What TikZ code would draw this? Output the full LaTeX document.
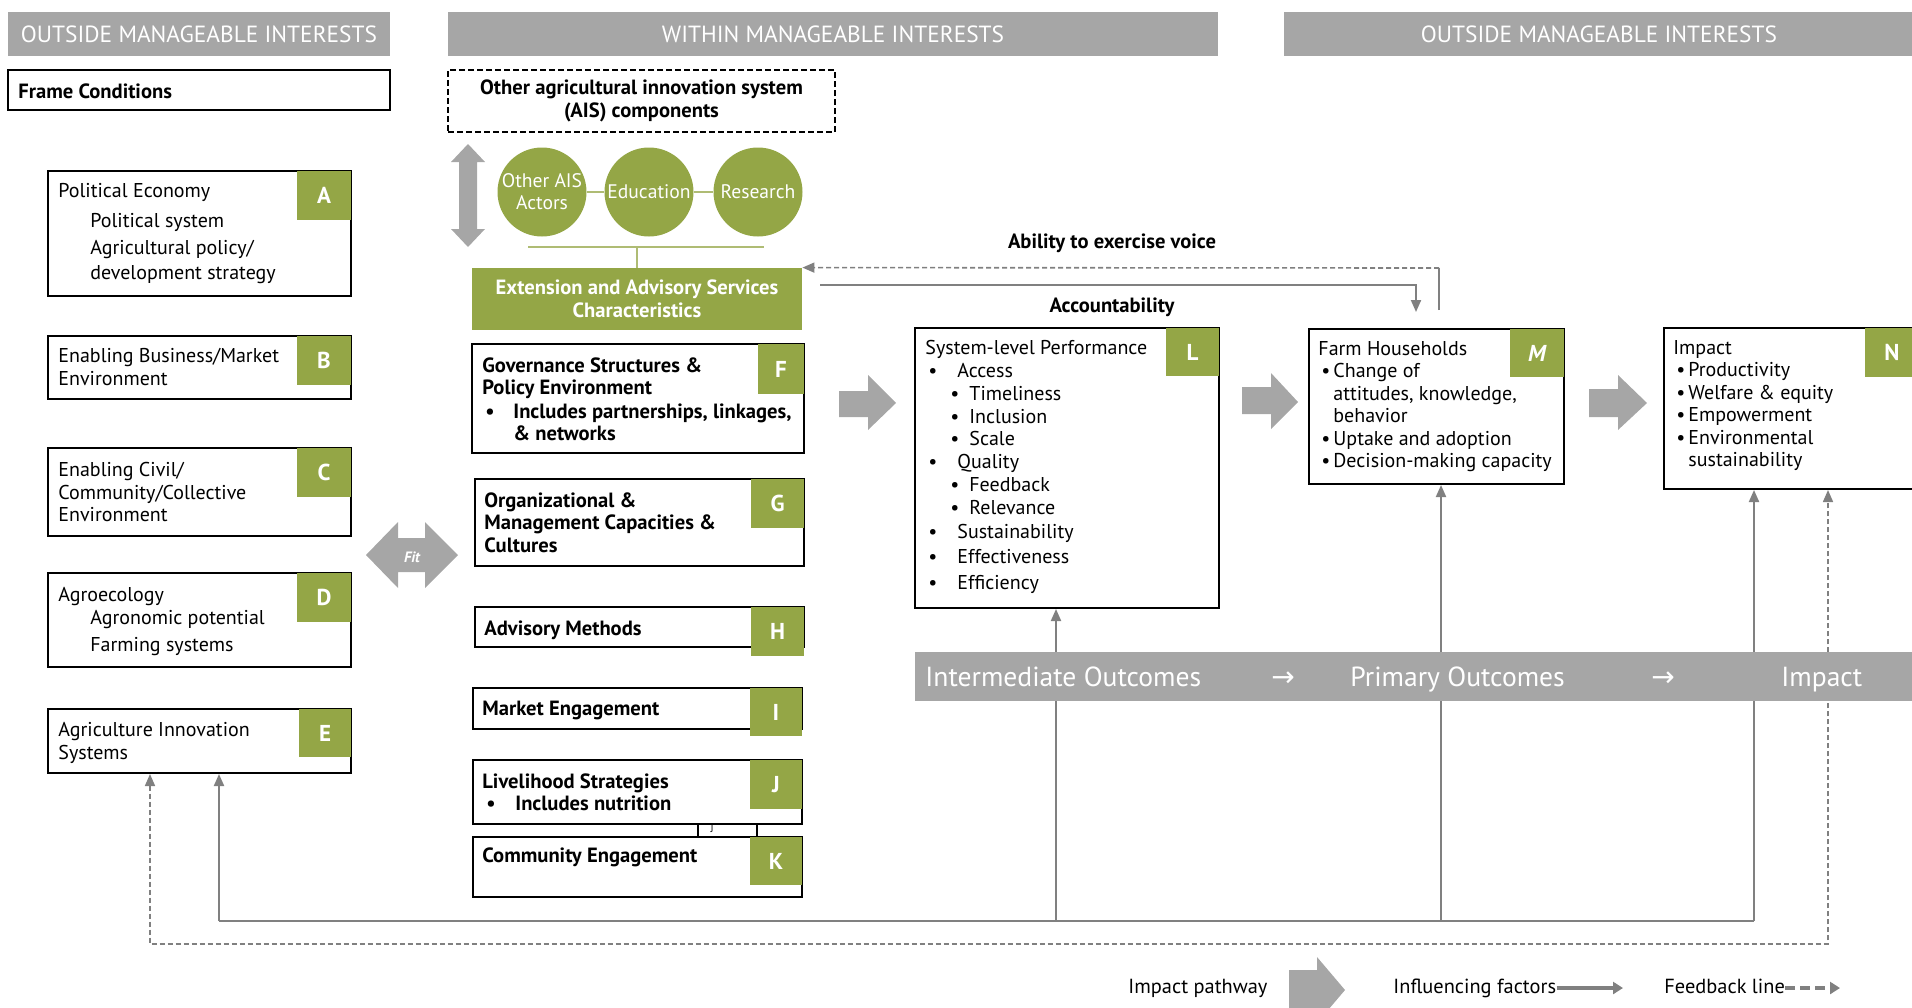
\documentclass[tikz,border=0pt]{standalone}
\usepackage{fontspec}
\setmainfont{PT Sans}
\newfontfamily\symfont{DejaVu Sans}
\usetikzlibrary{arrows.meta,fit,positioning}

\definecolor{hdrgray}{RGB}{166,166,166}
\definecolor{eagreen}{RGB}{148,166,70}
\definecolor{linegray}{RGB}{128,128,128}

% bullets for the outcome boxes
\newcommand{\bulA}{\makebox[16pt][l]{\hspace{1.5pt}•}}
\newcommand{\bulB}{\hspace{12.5pt}\makebox[9.5pt][l]{•}}
\newcommand{\bulC}{\makebox[7.5pt][l]{\hspace{1.5pt}•}}

\tikzset{
  banner/.style={fill=hdrgray, inner sep=0pt},
  bannertext/.style={text=white, inner sep=0pt, font=\fontsize{11.7}{13}\selectfont},
  framebox/.style={draw=black, line width=1pt, inner sep=0pt},
  tagbox/.style={fill=eagreen, inner sep=0pt},
  tagletter/.style={text=white, inner sep=0pt, font=\bfseries\fontsize{11.5}{13}\selectfont},
  boxtext/.style={anchor=north west, align=left, inner sep=0pt, font=\fontsize{10}{11.25}\selectfont},
  boldtext/.style={boxtext, font=\bfseries\fontsize{10.3}{11.3}\selectfont},
  aiscircle/.style={circle, fill=eagreen, minimum size=44.5pt, inner sep=0pt, text=white, align=center, font=\fontsize{9.8}{11}\selectfont},
  greenline/.style={draw=eagreen!75, line width=1pt},
  infline/.style={draw=linegray, line width=1pt},
  fbline/.style={draw=linegray, line width=0.8pt, dash pattern=on 2.5pt off 1.5pt},
  tip/.style={-{Triangle[width=5pt,length=6pt]}},
  fatarrow/.style={fill=hdrgray},
  bandtext/.style={text=white, inner sep=0pt, anchor=base west, font=\fontsize{13.8}{15}\selectfont},
  legtext/.style={inner sep=0pt, anchor=base west, font=\fontsize{10.2}{11}\selectfont},
}

\begin{document}
\begin{tikzpicture}[x=0.5pt,y=-0.5pt]
\useasboundingbox (0,0) rectangle (1912,1007);

% banners
\node[banner, fit={(8,12) (390,56)}, label={[bannertext]center:OUTSIDE MANAGEABLE INTERESTS}] (outleft) {};
\node[banner, fit={(448,12) (1218,56)}, label={[bannertext]center:WITHIN MANAGEABLE INTERESTS}] (within) {};
\node[banner, fit={(1284,12) (1914,56)}, label={[bannertext]center:OUTSIDE MANAGEABLE INTERESTS}] (outright) {};

% frame conditions
\node[framebox, fit={(8,70) (390,110)}] (frame) {};
\node[boldtext, anchor=base west] at (18,98) {Frame Conditions};

\node[framebox, fit={(48,171) (351,296)}] (polecon) {};
\node[tagbox, fit={(297,171) (351,220)}, label={[tagletter]center:A}] (tagA) {};
\node[boxtext, font=\fontsize{10}{13.5}\selectfont] at (58,183) {Political Economy\\[1.5pt]\hspace{16pt}Political system\\\hspace{16pt}Agricultural policy/\\[-1pt]\hspace{16pt}development strategy};

\node[framebox, fit={(48,336) (351,399)}] (bizenv) {};
\node[tagbox, fit={(297,336) (351,385)}, label={[tagletter]center:B}] (tagB) {};
\node[boxtext] at (58,348) {Enabling Business/Market\\Environment};

\node[framebox, fit={(48,448) (351,536)}] (civenv) {};
\node[tagbox, fit={(297,448) (351,497)}, label={[tagletter]center:C}] (tagC) {};
\node[boxtext] at (58,462) {Enabling Civil/\\Community/Collective\\Environment};

\node[framebox, fit={(48,573) (351,667)}] (agroeco) {};
\node[tagbox, fit={(297,573) (351,622)}, label={[tagletter]center:D}] (tagD) {};
\node[boxtext, font=\fontsize{10}{12.5}\selectfont] at (58,587) {Agroecology\\[-1pt]\hspace{16pt}Agronomic potential\\[1pt]\hspace{16pt}Farming systems};

\node[framebox, fit={(48,709) (351,773)}] (agris) {};
\node[tagbox, fit={(299,709) (351,757)}, label={[tagletter]center:E}] (tagE) {};
\node[boxtext] at (58,722) {Agriculture Innovation\\Systems};

% other AIS components
\node[framebox, dash pattern=on 3pt off 1.5pt, fit={(448,70) (835,132)}] (aisbox) {};
\node[boldtext, anchor=center, align=center, font=\bfseries\fontsize{10.3}{11.2}\selectfont] at (aisbox) {Other agricultural innovation system\\(AIS) components};

\fill[fatarrow] (468,144) -- (485,162) -- (477,162) -- (477,229) -- (485,229) -- (468,247)
  -- (451,229) -- (459,229) -- (459,162) -- (451,162) -- cycle;

\node[aiscircle] (actors) at (542,192) {Other AIS\\Actors};
\node[aiscircle] (educ) at (649,192) {Education};
\node[aiscircle] (research) at (758,192) {Research};
\draw[greenline] (actors) -- (educ);
\draw[greenline] (educ) -- (research);

\node[fill=eagreen, inner sep=0pt, fit={(472,268) (802,330)}] (eas) {};
\node[text=white, align=center, font=\bfseries\fontsize{10.3}{11.5}\selectfont] at (eas) {Extension and Advisory Services\\Characteristics};

\coordinate (busleft) at (528,247);
\coordinate (busright) at (764,247);
\draw[greenline] (busleft) -- (busright);
\draw[greenline] (eas.north) -- (eas.north |- busleft);

% EAS characteristics
\node[framebox, fit={(472,344) (804,453)}] (govern) {};
\node[tagbox, fit={(758,344) (804,394)}, label={[tagletter]center:F}] (tagF) {};
\node[boldtext] at (482,357) {Governance Structures \&\\Policy Environment\\[0.5pt]\makebox[15.5pt][l]{\hspace{1.5pt}•}Includes partnerships, linkages,\\\hspace{15.5pt}\& networks};

\node[framebox, fit={(475,479) (804,566)}] (orgcap) {};
\node[tagbox, fit={(751,479) (804,528)}, label={[tagletter]center:G}] (tagG) {};
\node[boldtext] at (484,492) {Organizational \&\\Management Capacities \&\\Cultures};

\node[framebox, fit={(475,607) (804,647)}] (advmeth) {};
\node[tagbox, fit={(751,607) (804,656)}, label={[tagletter]center:H}] (tagH) {};
\node[boldtext, anchor=base west] at (484,635) {Advisory Methods};

\node[framebox, fit={(473,688) (802,729)}] (market) {};
\node[tagbox, fit={(750,688) (802,736)}, label={[tagletter]center:I}] (tagI) {};
\node[boldtext, anchor=base west] at (482,715) {Market Engagement};

\node[framebox, fit={(473,760) (802,824)}] (livelihood) {};
\node[tagbox, fit={(750,760) (802,809)}, label={[tagletter]center:J}] (tagJ) {};
\node[boldtext] at (482,773) {Livelihood Strategies\\\makebox[16.5pt][l]{\hspace{2pt}•}Includes nutrition};

\node[framebox, fit={(473,837) (802,897)}] (community) {};
\node[tagbox, fit={(750,837) (802,885)}, label={[tagletter]center:K}] (tagK) {};
\node[boldtext, anchor=base west] at (482,862) {Community Engagement};

\draw[line width=0.8pt] (livelihood.south -| 698,0) -- (community.north -| 698,0);
\draw[line width=0.8pt] (livelihood.south -| 757,0) -- (community.north -| 757,0);
\node[inner sep=0pt, font=\fontsize{5}{5}\selectfont] (smallj) at (712,829) {J};

% fit arrow
\fill[fatarrow] (366,555) -- (398,522) -- (398,538) -- (425,538) -- (425,522) -- (458,555)
  -- (425,588) -- (425,572) -- (398,572) -- (398,588) -- cycle;
\node[text=white, font=\bfseries\itshape\fontsize{7.5}{8}\selectfont] (fitlabel) at (412,557) {Fit};

% impact pathway arrows
\fill[fatarrow] (839,391) -- (868,391) -- (868,375) -- (896,403) -- (868,430) -- (868,417) -- (839,417) -- cycle;
\fill[fatarrow] (1242,387) -- (1271,387) -- (1271,373) -- (1298,402) -- (1271,429) -- (1271,414) -- (1242,414) -- cycle;
\fill[fatarrow] (1589,389) -- (1618,389) -- (1618,375) -- (1647,403) -- (1618,430) -- (1618,417) -- (1589,417) -- cycle;

% outcomes
\node[framebox, fit={(915,328) (1219,608)}] (sysperf) {};
\node[tagbox, fit={(1166,328) (1219,376)}, label={[tagletter]center:L}] (tagL) {};
\node[boxtext, font=\fontsize{10}{11.4}\selectfont] at (925,340) {System-level Performance\\\bulA Access\\\bulB Timeliness\\\bulB Inclusion\\\bulB Scale\\\bulA Quality\\\bulB Feedback\\\bulB Relevance\\[0.5pt]\bulA Sustainability\\[1.5pt]\bulA Effectiveness\\[1.5pt]\bulA Efficiency};

\node[framebox, fit={(1309,329) (1564,484)}] (farm) {};
\node[tagbox, fit={(1510,329) (1564,377)}, label={[tagletter, font=\bfseries\itshape\fontsize{11.5}{13}\selectfont]center:M}] (tagM) {};
\node[boxtext] at (1318,341) {Farm Households\\\bulC Change of\\\hspace{7.5pt}attitudes, knowledge,\\\hspace{7.5pt}behavior\\\bulC Uptake and adoption\\\bulC Decision-making capacity};

\node[framebox, fit={(1664,328) (1919,489)}] (impact) {};
\node[tagbox, fit={(1865,328) (1919,377)}, label={[tagletter]center:N}] (tagN) {};
\node[boxtext] at (1673,340) {Impact\\\bulC Productivity\\\bulC Welfare \& equity\\\bulC Empowerment\\\bulC Environmental\\\hspace{7.5pt}sustainability};

% voice and accountability
\node[font=\bfseries\fontsize{10.3}{11}\selectfont] (voice) at (1112,243) {Ability to exercise voice};
\node[font=\bfseries\fontsize{10.3}{11}\selectfont] (account) at (1112,307) {Accountability};
\coordinate (voicestart) at (1439,310);
\coordinate (voicecorner) at (1439,268);
\draw[infline] (voicestart) -- (voicecorner);
\draw[fbline, tip] (voicecorner) -- (eas.north east);
\coordinate (acctstart) at (820,285);
\coordinate (acctend) at (1416,312);
\draw[infline, tip] (acctstart) -| (acctend);

% influencing factors and feedback
\coordinate (infwest) at (219,921);
\coordinate (infeast) at (1754,921);
\draw[infline] (infwest) -- (infeast);
\draw[infline, tip] (infwest) -- (infwest |- agris.south);
\foreach \n/\x in {sysperf/1056,farm/1441,impact/1754}
  \draw[infline, tip] (\x,921) -- (\x,921 |- \n.south);

\coordinate (fbwest) at (150,944);
\coordinate (fbeast) at (1828,944);
\draw[fbline, {Triangle[width=5pt,length=6pt]}-{Triangle[width=5pt,length=6pt]}]
  (fbwest |- agris.south) -- (fbwest) -- (fbeast) -- (fbeast |- impact.south);

% outcome band
\node[banner, fit={(915,652) (1914,701)}] (band) {};
\node[bandtext] (interm) at (925,686) {Intermediate Outcomes};
\node[bandtext, anchor=base] (arrowone) at (1283,686) {\symfont\fontsize{14}{16}\selectfont →};
\node[bandtext] (primary) at (1350,686) {Primary Outcomes};
\node[bandtext, anchor=base] (arrowtwo) at (1663,686) {\symfont\fontsize{14}{16}\selectfont →};
\node[bandtext] (impactlbl) at (1781,686) {Impact};

% legend
\node[legtext] (legpath) at (1128,993) {Impact pathway};
\fill[fatarrow] (1289,970) -- (1317,970) -- (1317,957) -- (1345,990) -- (1317,1023) -- (1317,1010) -- (1289,1010) -- cycle;
\node[legtext] (leginf) at (1393,993) {Influencing factors};
\coordinate (leginfend) at (1623,988);
\draw[draw=linegray, line width=2pt, -{Triangle[width=6pt,length=5pt]}] (leginf.east |- leginfend) -- (leginfend);
\node[legtext] (legfb) at (1664,993) {Feedback line};
\coordinate (legfbend) at (1840,988);
\draw[draw=linegray, line width=2pt, dash pattern=on 5pt off 2.5pt, -{Triangle[width=6pt,length=5pt]}] (legfb.east |- legfbend) -- (legfbend);
\end{tikzpicture}
\end{document}
